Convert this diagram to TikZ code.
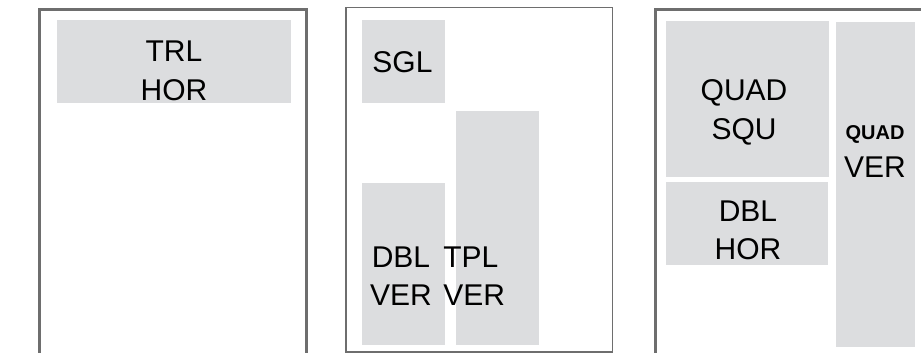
\documentclass[tikz,border=0pt]{standalone}
\usepackage{fontspec}
\setmainfont{Liberation Sans}
\usepackage{tikz}

\definecolor{tilegray}{HTML}{DCDDDF}
\definecolor{framegray}{HTML}{6E6E6E}

\begin{document}
\begin{tikzpicture}[x=0.75pt,y=0.75pt,yscale=-1,xscale=1,
  lbl/.style={inner sep=0pt,align=center,anchor=base,font=\fontsize{22.5}{28.5}\selectfont}]
\useasboundingbox (0,0) rectangle (921,353);
\clip (0,0) rectangle (921,353);

%Shape: Rectangle [tiles, left sheet]
\fill[tilegray] (57,20) rectangle (291,103);
%Shape: Rectangle [tiles, middle sheet]
\fill[tilegray] (362,20) rectangle (445,103);
\fill[tilegray] (362,183) rectangle (445,345);
\fill[tilegray] (456,111) rectangle (539,345);
%Shape: Rectangle [tiles, right sheet]
\fill[tilegray] (666,21) rectangle (829,177);
\fill[tilegray] (666,182) rectangle (828,265);
\fill[tilegray] (836,22) rectangle (915,347);

%Shape: Rectangle [sheets]
\draw[framegray,line width=1.9pt] (39.5,9.5) rectangle (306.5,420);
\draw[framegray,line width=1.1pt] (346,7.5) rectangle (612.5,351.8);
\draw[framegray,line width=1.9pt] (655.5,9.5) rectangle (1000,420);

% Text Node
\draw (174,100) node (trlhor) [lbl] {TRL\\HOR};
% Text Node
\draw (402.5,73) node (sgl) [lbl] {SGL};
% Text Node
\draw (401,305) node (dblver) [lbl] {DBL\\VER};
% Text Node
\draw (443,305) node (tplver) [lbl,anchor=base west,align=left] {TPL\\VER};
% Text Node
\draw (744,139) node (quadsqu) [lbl] {QUAD\\SQU};
% Text Node
\draw (748,259) node (dblhor) [lbl] {DBL\\HOR};
% Text Node
\draw (875,177) node (quadver) [lbl] {{\fontsize{15}{18}\selectfont\bfseries QUAD}\\VER};

\end{tikzpicture}
\end{document}
